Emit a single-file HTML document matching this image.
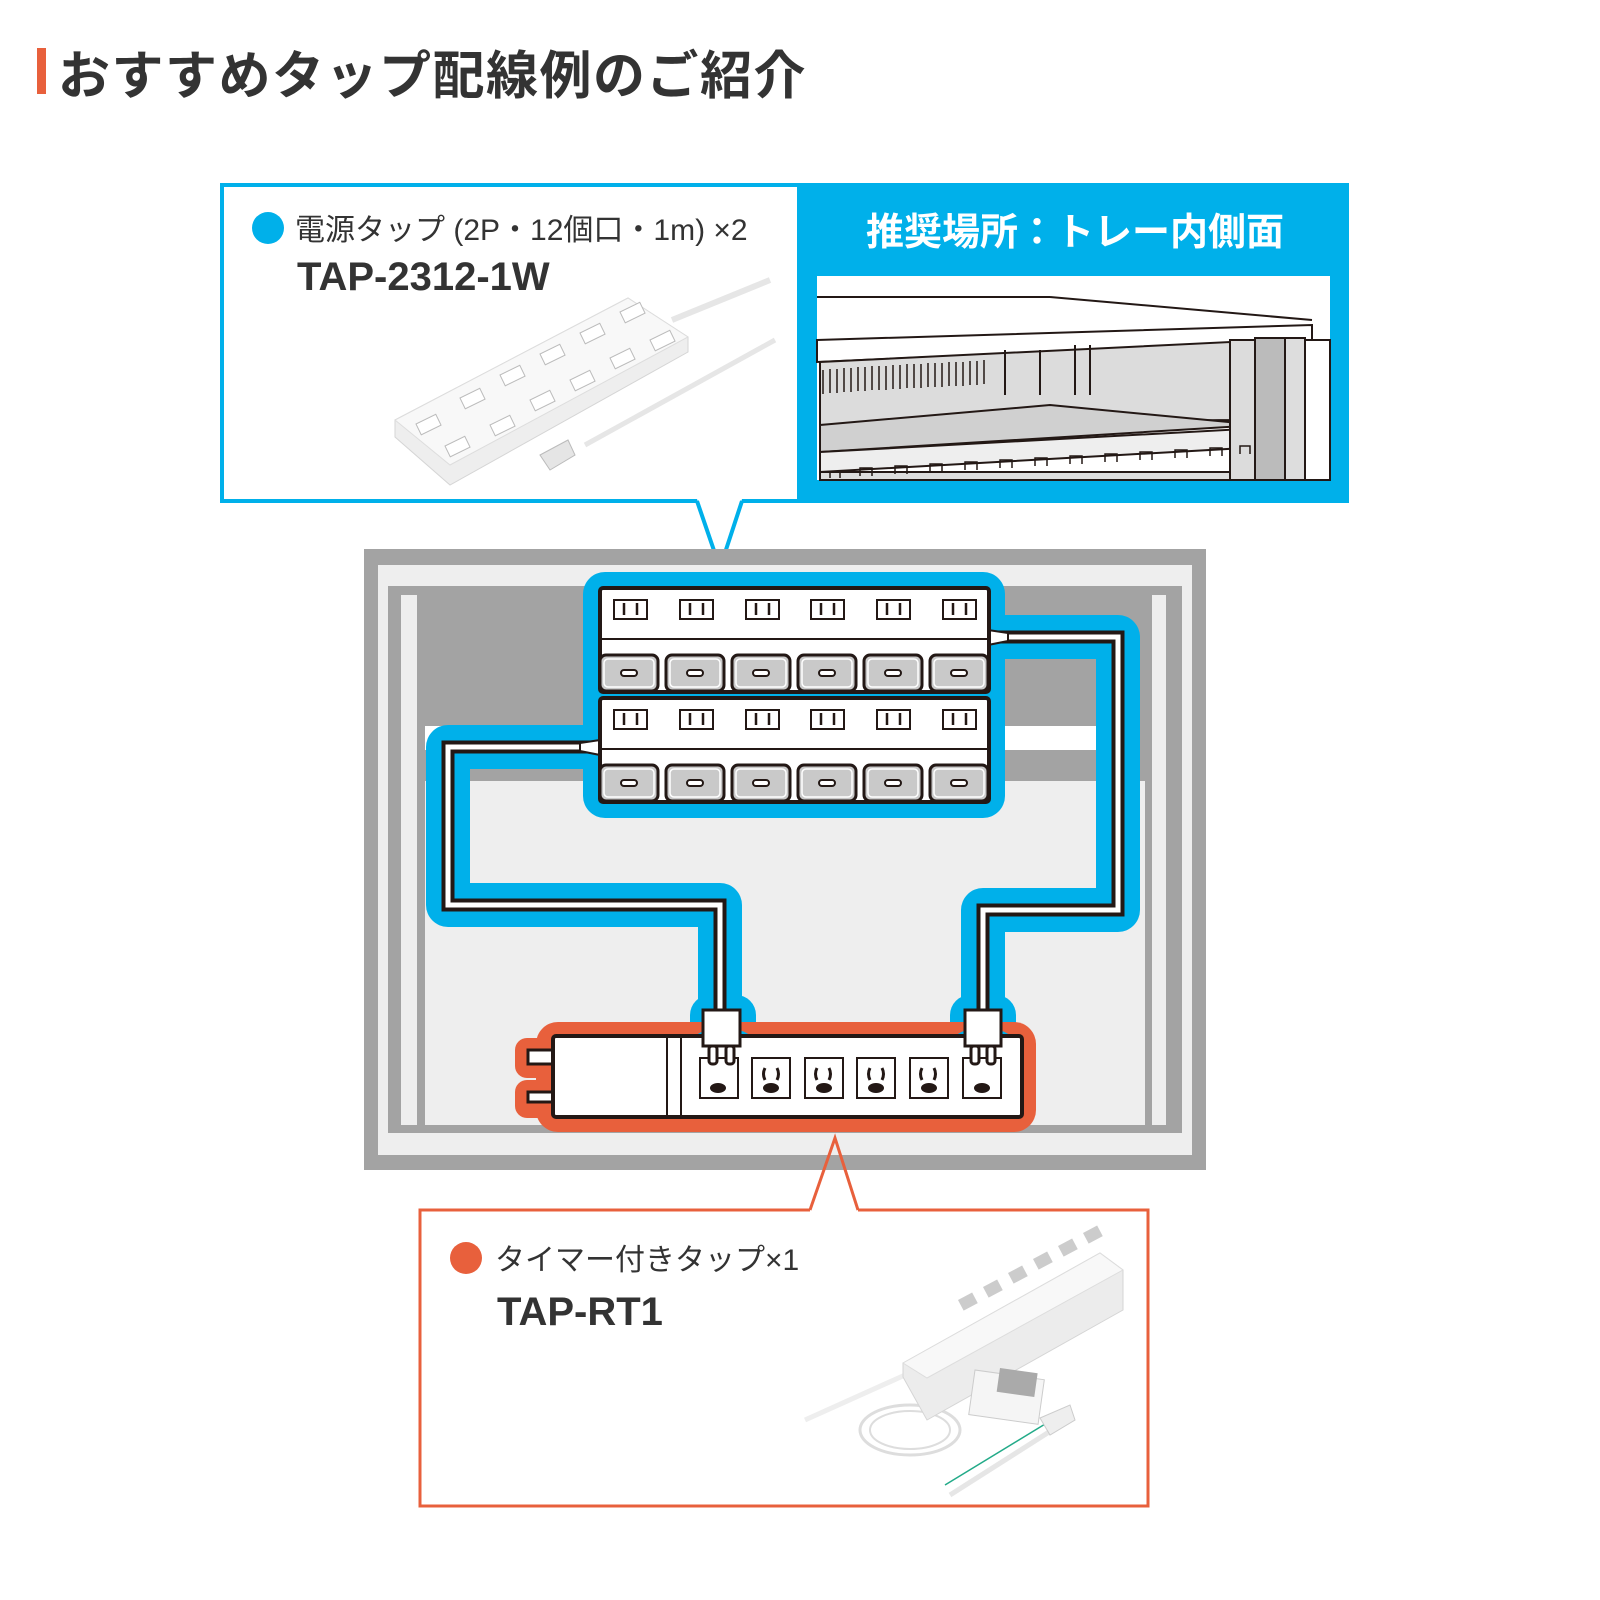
<!DOCTYPE html>
<html><head><meta charset="utf-8"><style>
html,body{margin:0;padding:0;background:#fff;}
svg{display:block}
text{font-family:"Liberation Sans","Noto Sans CJK JP",sans-serif;}
</style></head><body>
<svg width="1600" height="1600" viewBox="0 0 1600 1600" xmlns="http://www.w3.org/2000/svg">
<!-- Title -->
<rect x="37" y="48" width="9" height="46" fill="#e8603c"/>
<text x="58" y="94" font-size="52" font-weight="bold" fill="#333" letter-spacing="1.5">おすすめタップ配線例のご紹介</text>

<!-- Top callout -->
<rect x="222" y="185" width="1125" height="316" fill="#fff" stroke="#00b0ea" stroke-width="4"/>
<rect x="797" y="183" width="552" height="320" fill="#00b0ea"/>
<polygon points="697,499 742,499 720,568" fill="#fff"/>
<polyline points="697,501 720,568 742,501" fill="none" stroke="#00b0ea" stroke-width="4"/>
<circle cx="268" cy="228" r="16" fill="#00b0ea"/>
<text x="295" y="240" font-size="30" fill="#333">電源タップ (2P・12個口・1m) ×2</text>
<text x="297" y="290" font-size="40" font-weight="bold" fill="#333">TAP-2312-1W</text>
<text x="1075" y="245" font-size="38" font-weight="bold" fill="#fff" text-anchor="middle">推奨場所：トレー内側面</text>

<!-- rack illustration -->
<rect x="817" y="276" width="513" height="204" fill="#fff"/>
<g stroke="#231815" stroke-width="2">
<polygon points="817,340 1312,325 1312,340 817,362" fill="#fff"/>
<polygon points="820,362 1230,342 1230,420 820,425" fill="#dcdcdc"/>
<polygon points="820,425 1050,405 1260,425 820,452" fill="#d0d0d0"/>
<polygon points="820,452 1262,428 1262,447 820,472" fill="#eee"/>
<rect x="820" y="472" width="440" height="8" fill="#ddd"/>
<rect x="1230" y="340" width="25" height="140" fill="#dcdcdc"/>
<rect x="1255" y="338" width="30" height="142" fill="#bbb"/>
<rect x="1285" y="338" width="20" height="142" fill="#ddd"/>
<rect x="1305" y="340" width="25" height="140" fill="#fff"/>
<line x1="817" y1="297" x2="1050" y2="297" fill="none"/>
<line x1="1050" y1="297" x2="1312" y2="320"/>
<line x1="1005" y1="350" x2="1005" y2="395"/>
<line x1="1040" y1="350" x2="1040" y2="395"/>
<line x1="1075" y1="345" x2="1075" y2="395"/>
<line x1="1090" y1="345" x2="1090" y2="395"/>
</g>
<g fill="none" stroke="#231815" stroke-width="1.5">
<path d="M823 370v24M830 369v24M837 369v24M844 368v24M851 368v24M858 367v24M865 367v24M872 366v24M879 366v24M886 366v24M893 365v24M900 365v24M907 364v24M914 364v24M921 364v24M928 363v24M935 363v24M942 363v24M949 362v24M956 362v24M963 362v24M970 361v24M977 361v24M984 360v24"/>
<path d="M830 478v-6h10v6M860 476v-8h12v8M895 474v-8h12v8M930 472v-8h12v8M965 470v-8h12v8M1000 468v-8h12v8M1035 466v-8h12v8M1070 464v-8h12v8M1105 462v-8h12v8M1140 460v-8h12v8M1175 458v-8h12v8M1210 456v-8h12v8M1240 454v-8h10v8"/>
</g>

<!-- product 1 -->
<polyline points="672,320 770,280" fill="none" stroke="#e6e6e6" stroke-width="6"/>
<polyline points="585,445 775,340" fill="none" stroke="#e6e6e6" stroke-width="5"/>
<polygon points="395,420 628,298 688,337 688,352 450,485 395,437" fill="#eee" stroke="#d5d5d5"/>
<polygon points="395,420 628,298 688,337 450,465" fill="#f8f8f8" stroke="#ddd"/>
<polygon points="540,455 568,440 575,455 550,470" fill="#e5e5e5" stroke="#bbb"/>
<g fill="#fff" stroke="#bbb">
<rect x="416" y="424" width="22" height="12" transform="rotate(-26 416 424)"/>
<rect x="460" y="398" width="22" height="12" transform="rotate(-26 460 398)"/>
<rect x="500" y="375" width="22" height="12" transform="rotate(-26 500 375)"/>
<rect x="540" y="354" width="22" height="12" transform="rotate(-26 540 354)"/>
<rect x="580" y="333" width="22" height="12" transform="rotate(-26 580 333)"/>
<rect x="620" y="312" width="22" height="12" transform="rotate(-26 620 312)"/>
<rect x="445" y="446" width="22" height="12" transform="rotate(-26 445 446)"/>
<rect x="490" y="425" width="22" height="12" transform="rotate(-26 490 425)"/>
<rect x="530" y="400" width="22" height="12" transform="rotate(-26 530 400)"/>
<rect x="570" y="380" width="22" height="12" transform="rotate(-26 570 380)"/>
<rect x="610" y="358" width="22" height="12" transform="rotate(-26 610 358)"/>
<rect x="650" y="340" width="22" height="12" transform="rotate(-26 650 340)"/>
</g>

<!-- cabinet -->
<rect x="364" y="549" width="842" height="621" fill="#a3a3a3"/>
<rect x="378" y="565" width="814" height="21" fill="#eee"/>
<rect x="378" y="565" width="10" height="590" fill="#eee"/>
<rect x="1182" y="565" width="10" height="590" fill="#eee"/>
<rect x="401" y="595" width="16" height="530" fill="#eee"/>
<rect x="1152" y="595" width="14" height="530" fill="#eee"/>
<rect x="425" y="781" width="720" height="344" fill="#eee"/>
<rect x="425" y="726" width="680" height="24" fill="#fff"/>
<rect x="388" y="1133" width="794" height="22" fill="#eee"/>

<!-- blue halos -->
<g fill="none" stroke="#00b0ea" stroke-linejoin="round" stroke-linecap="round">
<path d="M995 637 H1118 V910 H983 V1030" stroke-width="44"/>
<path d="M598 747 H448 V905 H720 V1030" stroke-width="44"/>
</g>
<rect x="583" y="572" width="422" height="246" rx="22" fill="#00b0ea"/>
<rect x="690" y="995" width="66" height="85" rx="20" fill="#00b0ea"/>
<rect x="950" y="995" width="66" height="85" rx="20" fill="#00b0ea"/>

<!-- red halo + timer tap -->
<rect x="536" y="1022" width="500" height="110" rx="22" fill="#e8603c"/>
<rect x="515" y="1038" width="50" height="40" rx="12" fill="#e8603c"/>
<rect x="515" y="1080" width="50" height="38" rx="12" fill="#e8603c"/>
<rect x="690" y="1030" width="66" height="60" rx="20" fill="#00b0ea"/>
<rect x="950" y="1030" width="66" height="60" rx="20" fill="#00b0ea"/>
<rect x="528" y="1050" width="26" height="14" fill="#fff" stroke="#231815" stroke-width="3"/>
<rect x="528" y="1092" width="26" height="10" fill="#fff" stroke="#231815" stroke-width="3"/>
<rect x="553" y="1036" width="469" height="81" rx="3" fill="#fff" stroke="#231815" stroke-width="4"/>
<line x1="667" y1="1036" x2="667" y2="1117" stroke="#231815" stroke-width="2"/>
<line x1="681" y1="1036" x2="681" y2="1117" stroke="#231815" stroke-width="2"/>
<g fill="#fff" stroke="#231815" stroke-width="2">
<rect x="700" y="1058" width="38" height="40"/><rect x="752" y="1058" width="38" height="40"/><rect x="805" y="1058" width="38" height="40"/><rect x="857" y="1058" width="38" height="40"/><rect x="910" y="1058" width="38" height="40"/><rect x="963" y="1058" width="38" height="40"/>
</g>
<g fill="none" stroke="#231815" stroke-width="3">
<path d="M765 1068 q-3 6 0 12 M777 1068 q3 6 0 12 M817 1068 q-3 6 0 12 M829 1068 q3 6 0 12 M870 1068 q-3 6 0 12 M882 1068 q3 6 0 12 M922 1068 q-3 6 0 12 M934 1068 q3 6 0 12"/>
</g>
<g fill="#231815">
<ellipse cx="718" cy="1088" rx="8" ry="5"/><ellipse cx="771" cy="1088" rx="8" ry="5"/><ellipse cx="824" cy="1088" rx="8" ry="5"/><ellipse cx="876" cy="1088" rx="8" ry="5"/><ellipse cx="929" cy="1088" rx="8" ry="5"/><ellipse cx="982" cy="1088" rx="8" ry="5"/>
</g>

<!-- cables -->
<g fill="none" stroke-linejoin="miter">
<path d="M995 637 H1118 V910 H983 V1010" stroke="#231815" stroke-width="13"/>
<path d="M995 637 H1118 V910 H983 V1010" stroke="#fff" stroke-width="5"/>
<path d="M598 747 H448 V905 H720 V1010" stroke="#231815" stroke-width="13"/>
<path d="M598 747 H448 V905 H720 V1010" stroke="#fff" stroke-width="5"/>
</g>
<!-- plugs -->
<g fill="#fff" stroke="#231815" stroke-width="3">
<rect x="703" y="1010" width="37" height="36"/>
<rect x="709" y="1046" width="8" height="18" rx="3"/><rect x="726" y="1046" width="8" height="18" rx="3"/>
<rect x="965" y="1010" width="36" height="36"/>
<rect x="971" y="1046" width="8" height="18" rx="3"/><rect x="987" y="1046" width="8" height="18" rx="3"/>
</g>

<!-- tap bodies -->
<g stroke="#231815">
<polygon points="988,630 1008,633 1008,641 988,645" fill="#fff" stroke-width="2"/>
<polygon points="600,740 580,743 580,751 600,755" fill="#fff" stroke-width="2"/>
<rect x="600" y="588" width="389" height="104" rx="3" fill="#fff" stroke-width="4"/>
<line x1="600" y1="639" x2="989" y2="639" stroke-width="2"/>
<rect x="600" y="698" width="389" height="104" rx="3" fill="#fff" stroke-width="4"/>
<line x1="600" y1="749" x2="989" y2="749" stroke-width="2"/>
</g>
<g id="row">
<g fill="#fff" stroke="#231815" stroke-width="2">
<rect x="614" y="600" width="33" height="19"/><rect x="680" y="600" width="33" height="19"/><rect x="746" y="600" width="33" height="19"/><rect x="811" y="600" width="33" height="19"/><rect x="877" y="600" width="33" height="19"/><rect x="943" y="600" width="33" height="19"/>
</g>
<path d="M624 603v12M637 603v12M690 603v12M703 603v12M756 603v12M769 603v12M821 603v12M834 603v12M887 603v12M900 603v12M953 603v12M966 603v12" stroke="#231815" stroke-width="2.5"/>
<g fill="#c9c9c9" stroke="#231815" stroke-width="3">
<rect x="600" y="655" width="58" height="36" rx="6"/><rect x="666" y="655" width="58" height="36" rx="6"/><rect x="732" y="655" width="58" height="36" rx="6"/><rect x="798" y="655" width="58" height="36" rx="6"/><rect x="864" y="655" width="58" height="36" rx="6"/><rect x="930" y="655" width="58" height="36" rx="6"/>
</g>
<g fill="none" stroke="#fff" stroke-width="1.5">
<rect x="604" y="659" width="50" height="28" rx="4"/><rect x="670" y="659" width="50" height="28" rx="4"/><rect x="736" y="659" width="50" height="28" rx="4"/><rect x="802" y="659" width="50" height="28" rx="4"/><rect x="868" y="659" width="50" height="28" rx="4"/><rect x="934" y="659" width="50" height="28" rx="4"/>
</g>
<g fill="#fff" stroke="#231815" stroke-width="2">
<rect x="621" y="670" width="16" height="6" rx="3"/><rect x="687" y="670" width="16" height="6" rx="3"/><rect x="753" y="670" width="16" height="6" rx="3"/><rect x="819" y="670" width="16" height="6" rx="3"/><rect x="885" y="670" width="16" height="6" rx="3"/><rect x="951" y="670" width="16" height="6" rx="3"/>
</g>
</g>
<use href="#row" y="110"/>

<!-- Bottom callout -->
<polyline points="810,1210 835,1138 858,1210" fill="none" stroke="#e8603c" stroke-width="3"/>
<path d="M810 1210 H420 V1506 H1148 V1210 H858" fill="none" stroke="#e8603c" stroke-width="3"/>
<circle cx="466" cy="1258" r="16" fill="#e8603c"/>
<text x="495" y="1270" font-size="30" fill="#333">タイマー付きタップ×1</text>
<text x="497" y="1325" font-size="40" font-weight="bold" fill="#333">TAP-RT1</text>

<!-- product 2 -->
<path d="M905 1375 L805 1420" stroke="#eee" stroke-width="5" fill="none"/>
<ellipse cx="910" cy="1430" rx="50" ry="25" fill="none" stroke="#ddd" stroke-width="3"/>
<ellipse cx="910" cy="1430" rx="40" ry="19" fill="none" stroke="#ddd" stroke-width="2"/>
<path d="M950 1495 L1060 1425" stroke="#e6e6e6" stroke-width="5"/>
<path d="M945 1485 L1055 1418" stroke="#2a8" stroke-width="1.5"/>
<polygon points="1040,1418 1070,1405 1075,1420 1050,1435" fill="#eee" stroke="#ccc"/>
<polygon points="903,1363 1100,1253 1123,1270 1123,1310 927,1420 903,1377" fill="#ececec" stroke="#d5d5d5"/>
<polygon points="903,1363 1100,1253 1123,1270 927,1378" fill="#f8f8f8" stroke="#ddd"/>
<rect x="975" y="1370" width="70" height="45" fill="#f5f5f5" stroke="#ccc" transform="rotate(8 975 1370)"/>
<rect x="1000" y="1368" width="38" height="24" fill="#aaa" transform="rotate(8 1000 1368)"/>
<g fill="#ccc">
<rect x="958" y="1300" width="16" height="12" transform="rotate(-28 958 1300)"/>
<rect x="983" y="1287" width="16" height="12" transform="rotate(-28 983 1287)"/>
<rect x="1008" y="1273" width="16" height="12" transform="rotate(-28 1008 1273)"/>
<rect x="1033" y="1259" width="16" height="12" transform="rotate(-28 1033 1259)"/>
<rect x="1058" y="1246" width="16" height="12" transform="rotate(-28 1058 1246)"/>
<rect x="1083" y="1233" width="16" height="12" transform="rotate(-28 1083 1233)"/>
</g>
</svg>
</body></html>
